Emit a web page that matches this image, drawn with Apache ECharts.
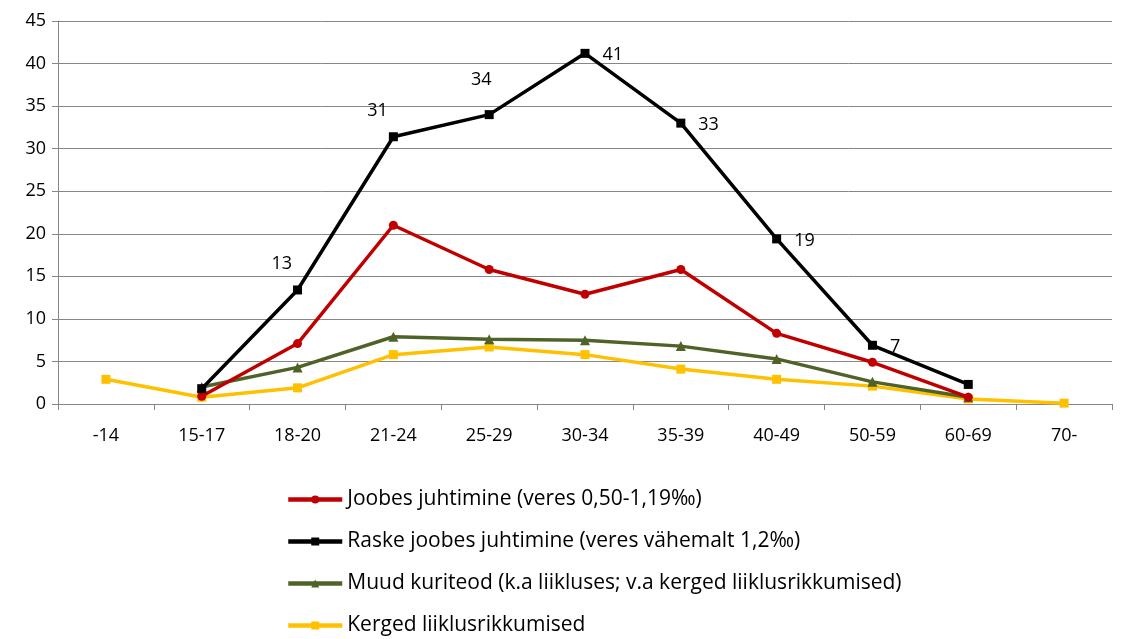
<!DOCTYPE html>
<html><head><meta charset="utf-8">
<script src="https://cdn.jsdelivr.net/npm/echarts@6/dist/echarts.min.js"></script>
<style>html,body{margin:0;padding:0;background:#fff}#c{width:1124px;height:639px}</style>
</head><body><div id="c"></div>
<script>
const categories = ['-14','15-17','18-20','21-24','25-29','30-34','35-39','40-49','50-59','60-69','70-'];
const yTicks = {min:0, max:45, interval:5};
const seriesNames = ['Joobes juhtimine (veres 0,50-1,19‰)','Raske joobes juhtimine (veres vähemalt 1,2‰)','Muud kuriteod (k.a liikluses; v.a kerged liiklusrikkumised)','Kerged liiklusrikkumised'];
const joobes = [null,0.9,7.1,21.0,15.8,12.9,15.8,8.3,4.9,0.8,null];
const raske = [null,1.8,13.4,31.4,34.0,41.2,33.0,19.4,6.9,2.3,null];
const muud = [null,2.0,4.3,7.9,7.6,7.5,6.8,5.3,2.6,0.8,null];
const kerged = [2.9,0.8,1.9,5.8,6.7,5.8,4.1,2.9,2.1,0.6,0.1];
const raskeLabelPos = [null,null,'left','left','top','right','right','right','right',null,null];

const font = '"Open Sans", sans-serif';
const chart = echarts.init(document.getElementById('c'), null, {renderer:'canvas'});
const raskeData = raske.map((v,i)=>{
  const p = raskeLabelPos[i];
  if (v==null) return null;
  if (!p) return {value:v, label:{show:false}};
  let off=[0,0];
  if (p==='left') off=[4,-26];
  if (p==='top') off=[-8,-16];
  if (p==='right') off=[8,2];
  return {value:v, label:{show:true, position:p, offset:off, formatter:(x)=>Math.round(x.value)}};
});
chart.setOption({
  animation:false,
  textStyle:{fontFamily:font},
  grid:{left:58,right:12,top:21,bottom:235,containLabel:false},
  legend:{
    orient:'vertical', left:281, top:484, height:160, itemGap:21, itemWidth:54, itemHeight:10,
    lineStyle:{width:4.5},
    textStyle:{fontSize:21, color:'#000', fontFamily:font},
    data:seriesNames
  },
  xAxis:{type:'category', data:categories, boundaryGap:true,
    axisLine:{lineStyle:{color:'#868686',width:1}},
    axisTick:{show:true,length:6,lineStyle:{color:'#868686'}, alignWithLabel:false},
    axisLabel:{color:'#000',fontSize:18,margin:23,fontFamily:font}},
  yAxis:{type:'value', min:yTicks.min, max:yTicks.max, interval:yTicks.interval,
    axisLine:{show:true,lineStyle:{color:'#868686'}},
    axisTick:{show:true,length:6,lineStyle:{color:'#868686'}},
    splitLine:{lineStyle:{color:'#868686',width:1}},
    axisLabel:{color:'#000',fontSize:18,margin:12,fontFamily:font}},
  series:[
    {name:seriesNames[0], type:'line', data:joobes, symbol:'circle', symbolSize:9,
     lineStyle:{color:'#C00000',width:3.5}, itemStyle:{color:'#C00000'}, z:3},
    {name:seriesNames[1], type:'line', data:raskeData, symbol:'rect', symbolSize:9,
     lineStyle:{color:'#000000',width:3.5}, itemStyle:{color:'#000000'}, z:4,
     label:{color:'#000',fontSize:18,fontFamily:font}},
    {name:seriesNames[2], type:'line', data:muud, symbol:'triangle', symbolSize:10,
     lineStyle:{color:'#4F6228',width:3.5}, itemStyle:{color:'#4F6228'}, z:2},
    {name:seriesNames[3], type:'line', data:kerged, symbol:'rect', symbolSize:9,
     lineStyle:{color:'#FFC000',width:3.5}, itemStyle:{color:'#FFC000'}, z:1}
  ]
});
</script></body></html>
